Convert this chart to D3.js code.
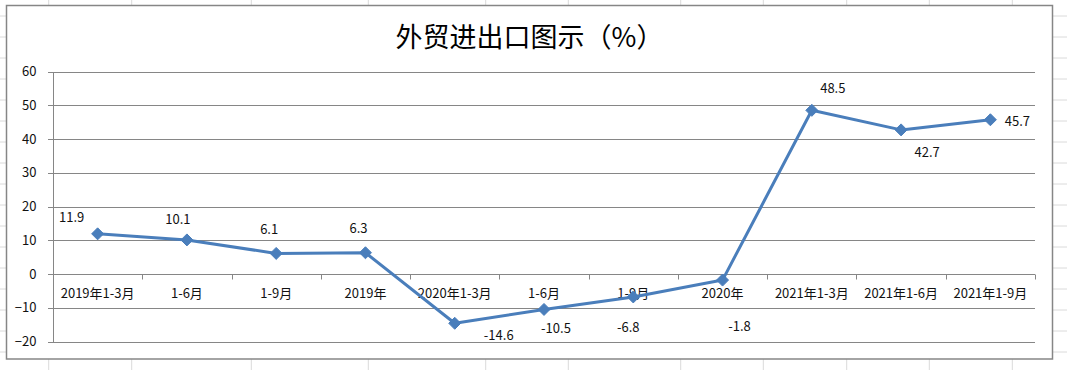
<!DOCTYPE html>
<html>
<head>
<meta charset="utf-8">
<script src="https://cdn.jsdelivr.net/npm/d3@7"></script>
<style>
  html, body { margin: 0; padding: 0; background: #fff; }
  svg { display: block; }
  text { font-family: "Noto Sans CJK SC", "Noto Sans", sans-serif; }
</style>
</head>
<body>
<svg id="chart" width="1067" height="370"></svg>
<script>
// ---- data ----
const title = "外贸进出口图示（%）";
const categories = ["2019年1-3月", "1-6月", "1-9月", "2019年", "2020年1-3月", "1-6月", "1-9月", "2020年", "2021年1-3月", "2021年1-6月", "2021年1-9月"];
const values = [11.9, 10.1, 6.1, 6.3, -14.6, -10.5, -6.8, -1.8, 48.5, 42.7, 45.7];
const yTicks = [-20, -10, 0, 10, 20, 30, 40, 50, 60];

// ---- layout / style (not data) ----
const W = 1067, H = 370;
const frame = { x: 6.5, y: 5.5, w: 1046, h: 353.5 };
const plot = { left: 53, right: 1035, top: 71.5, bottom: 341.5 };
const labelOffsets = [[-26, -16], [-9, -20], [-7, -24], [-7, -24], [44, 12], [12, 19], [-5, 30], [17, 46], [21, -22], [26, 23], [27, 2]];
const sheetCols = [48.7, 131.7, 251.3, 368.3, 485.7, 568.3, 680.7, 763.3, 846.7, 929.3, 1012.3];
const sheetRowStart = 16, sheetRowStep = 21;
const blue = "#4a7ebb";
const grey = "#868686";

const svg = d3.select("#chart");

// spreadsheet background grid
const bg = svg.append("g");
sheetCols.forEach(x => bg.append("line").attr("x1", x).attr("x2", x).attr("y1", 0).attr("y2", H)
  .attr("stroke", "#dadada").attr("stroke-width", 1));
for (let y = sheetRowStart; y < H; y += sheetRowStep) {
  bg.append("line").attr("x1", 0).attr("x2", W).attr("y1", y).attr("y2", y)
    .attr("stroke", "#dadada").attr("stroke-width", 1);
}

// chart frame
svg.append("rect").attr("x", frame.x).attr("y", frame.y).attr("width", frame.w).attr("height", frame.h)
  .attr("fill", "#fff").attr("stroke", grey).attr("stroke-width", 1.5);

// title
svg.append("text").attr("x", frame.x + frame.w / 2).attr("y", 47)
  .attr("text-anchor", "middle").attr("font-size", 27).attr("fill", "#000")
  .text(title);

// scales
const x = d3.scaleBand().domain(categories.map((c, i) => i)).range([plot.left, plot.right]).padding(0);
const y = d3.scaleLinear().domain([-20, 60]).range([plot.bottom, plot.top]);

// gridlines
svg.append("g").selectAll("line").data(yTicks).join("line")
  .attr("x1", plot.left - 5).attr("x2", plot.right)
  .attr("y1", d => Math.round(y(d)) + 0.5).attr("y2", d => Math.round(y(d)) + 0.5)
  .attr("stroke", grey).attr("stroke-width", 1);

// y axis
const yAxis = svg.append("g").attr("transform", `translate(${plot.left + 0.5},0)`)
  .call(d3.axisLeft(y).tickValues(yTicks).tickSize(0).tickPadding(17));
yAxis.select(".domain").attr("stroke", grey).attr("d", `M0,${Math.round(y(60)) + 0.5}V${Math.round(y(-20)) + 0.5}`);
yAxis.selectAll("text").attr("font-size", 13).attr("fill", "#111")
  .attr("font-family", "'Open Sans', 'Noto Sans', sans-serif");

// x axis at y = 0
const y0 = Math.round(y(0)) + 0.5;
const xAxisG = svg.append("g").attr("transform", `translate(0,${y0})`);
const bounds = d3.range(categories.length + 1).map(i => plot.left + i * x.bandwidth());
xAxisG.selectAll("line.tick").data(bounds).join("line").attr("class", "tick")
  .attr("x1", d => Math.round(d) + 0.5).attr("x2", d => Math.round(d) + 0.5)
  .attr("y1", 0).attr("y2", 5).attr("stroke", grey);
xAxisG.selectAll("text").data(categories).join("text")
  .attr("x", (d, i) => x(i) + x.bandwidth() / 2).attr("y", 23)
  .attr("text-anchor", "middle").attr("font-size", 13).attr("fill", "#111")
  .text(d => d);

// line
const line = d3.line().x((d, i) => x(i) + x.bandwidth() / 2).y(d => y(d));
svg.append("path").datum(values).attr("d", line)
  .attr("fill", "none").attr("stroke", blue).attr("stroke-width", 3).attr("stroke-linejoin", "round");

// markers (diamonds)
svg.append("g").selectAll("path").data(values).join("path")
  .attr("transform", (d, i) => `translate(${x(i) + x.bandwidth() / 2},${y(d)})`)
  .attr("d", "M0,-6L6,0L0,6L-6,0Z")
  .attr("fill", blue).attr("stroke", blue).attr("stroke-width", 1);

// data labels
svg.append("g").selectAll("text").data(values).join("text")
  .attr("x", (d, i) => x(i) + x.bandwidth() / 2 + labelOffsets[i][0])
  .attr("y", (d, i) => y(d) + labelOffsets[i][1])
  .attr("dy", "0.35em")
  .attr("text-anchor", "middle").attr("font-size", 13).attr("fill", "#111")
  .attr("font-family", "'Open Sans', 'Noto Sans', sans-serif")
  .text(d => d.toFixed(1));
</script>
</body>
</html>
